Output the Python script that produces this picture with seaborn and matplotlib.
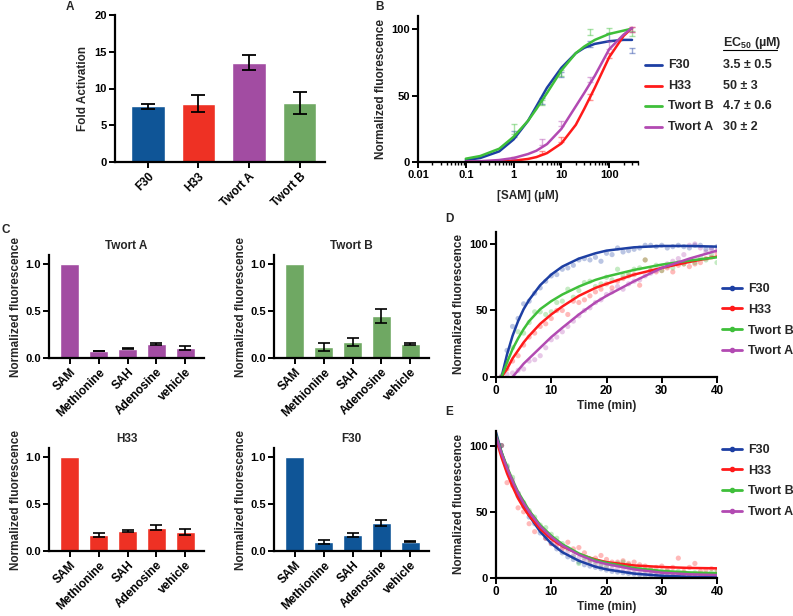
import numpy as np
import matplotlib
matplotlib.use("Agg")
import matplotlib.pyplot as plt
import seaborn as sns
from matplotlib.lines import Line2D

# ---- panel A: fold activation ----
strains = ['F30', 'H33', 'Twort A', 'Twort B']
fold_act = [7.6, 7.9, 13.5, 8.0]
fold_err = [0.35, 1.15, 1.05, 1.5]

# ---- panel B: SAM dose response ----
sam_conc = [1, 4, 10, 40, 100, 300]
sam_resp = {
    'F30': [21, 46, 66, 89, 94, 84],
    'H33': [3, 7, 17, 49, 80, 100],
    'Twort B': [25, 45, 67, 98, 99, 97],
    'Twort A': [3, 15, 29, 62, 88, 100],
}
sam_err = {
    'F30': [2, 2, 2, 2, 3, 2],
    'H33': [1, 1, 2, 2, 2, 2],
    'Twort B': [4, 2, 2, 2, 2, 2],
    'Twort A': [1, 2, 2, 2, 3, 2],
}
fit_conc = [0.1, 0.2, 0.5, 1, 2, 3, 5, 10, 20, 30, 50, 100, 200, 300]
fit_resp = {
    'F30': [1.5, 3, 8, 17, 31, 42, 56, 71, 82, 86, 89, 91, 92, 92],
    'H33': [0.1, 0.2, 0.4, 1, 2.3, 3.7, 6.7, 14, 28, 40, 56, 79, 95, 101],
    'Twort B': [2.5, 4.5, 10, 19, 31, 40, 52, 69, 82, 87, 92, 96.5, 99, 100.5],
    'Twort A': [0.3, 0.6, 1.5, 3, 6, 8.5, 13.5, 25, 42, 52, 65, 85, 96, 101],
}
ec50_txt = {'F30': '3.5 ± 0.5', 'H33': '50 ± 3', 'Twort B': '4.7 ± 0.6', 'Twort A': '30 ± 2'}

# ---- panel C: specificity ----
compounds = ['SAM', 'Methionine', 'SAH', 'Adenosine', 'vehicle']
spec_vals = {
    'Twort A': [1.0, 0.075, 0.10, 0.15, 0.11],
    'Twort B': [1.0, 0.12, 0.17, 0.45, 0.15],
    'H33': [1.0, 0.17, 0.21, 0.25, 0.20],
    'F30': [1.0, 0.10, 0.17, 0.30, 0.10],
}
spec_err = {
    'Twort A': [0, 0.005, 0.007, 0.012, 0.02],
    'Twort B': [0, 0.04, 0.04, 0.075, 0.01],
    'H33': [0, 0.02, 0.012, 0.025, 0.03],
    'F30': [0, 0.02, 0.02, 0.03, 0.005],
}

# ---- panel D: association kinetics ----
d_time = list(range(1, 41))
d_dots = {
    'F30': [0, 20, 38, 44, 55, 57, 63, 67, 72, 76, 77, 81, 82, 84, 88, 89, 88, 90, 87, 93,
            92, 97, 94, 95, 96, 97, 99, 99, 98, 99, 97, 98, 99, 98, 97, 99, 99, 96, 97, 98],
    'H33': [0, 6, 12, 16, 24, 30, 33, 38, 40, 44, 50, 50, 47, 57, 56, 58, 61, 64, 66, 70,
            67, 72, 74, 76, 77, 69, 88, 80, 79, 80, 82, 79, 84, 85, 83, 85, 86, 89, 90, 93],
    'Twort B': [0, 10, 22, 34, 33, 41, 49, 49, 47, 49, 56, 57, 66, 60, 65, 71, 72, 68, 70, 75,
                73, 81, 76, 78, 81, 82, 88, 80, 84, 80, 83, 82, 86, 85, 87, 86, 90, 88, 92, 86],
    'Twort A': [1, 2, 3, 5, 6, 12, 13, 16, 22, 28, 30, 34, 38, 42, 46, 50, 52, 56, 58, 62,
                64, 68, 66, 70, 72, 73, 76, 78, 80, 83, 85, 87, 89, 92, 99, 100, 97, 94, 96, 95],
}
d_fit_t = [1, 2, 3, 4, 5, 6, 8, 10, 12, 15, 18, 20, 25, 30, 35, 40]
d_fit = {
    'F30': [0, 17, 31, 42, 51, 58, 69, 77, 83, 89, 93, 95, 97.5, 98.5, 98.5, 98],
    'H33': [0, 6, 14, 20, 26, 31, 40, 47, 53, 61, 67, 70, 77, 82, 86.5, 90.5],
    'Twort B': [0, 11, 21, 29, 36, 42, 51, 57, 62, 68, 73, 75.5, 80.5, 84.5, 87.5, 90],
    'Twort A': [np.nan, np.nan, 0, 5, 10, 14, 22, 30, 37, 47, 56, 61, 72, 82, 89, 95],
}

# ---- panel E: dissociation kinetics ----
e_time = list(range(1, 41))
e_dots = {
    'F30': [100, 84, 72, 62, 54, 46, 41, 34, 30, 26, 22, 19, 16, 14, 12, 10, 9, 8, 7, 6,
            5, 4.5, 4, 3.5, 3, 2.5, 2, 2, 1.5, 1.5, 1, 1, 1, 0.5, 0.5, 0.5, 0.5, 0.5, 0, 0],
    'H33': [100, 72, 70, 53, 50, 41, 35, 38, 30, 26, 25, 22, 27, 22, 23, 19, 14, 15, 17, 14,
            12, 12, 13, 11, 12, 10, 9, 7, 8, 9, 6, 8, 15, 5, 8, 11, 5, 6, 7, 6],
    'Twort B': [100, 85, 76, 64, 57, 51, 46, 40, 38, 33, 30, 26, 22, 16, 11, 15, 13, 12, 10, 9,
                10, 11, 12, 10, 8, 7, 6, 6, 5, 5, 5, 4, 5, 4, 3, 4, 3, 3, 4, 5],
    'Twort A': [100, 83, 74, 64, 56, 50, 44, 38, 33, 29, 26, 23, 20, 17, 15, 13, 12, 10, 9, 8,
                7, 7, 6, 5, 5, 4, 4, 3, 3, 3, 3, 2, 2, 2, 2, 2, 1, 1, 1, 1],
}
e_fit_t = [0, 1, 2, 3, 4, 5, 6, 8, 10, 12, 15, 18, 20, 25, 30, 35, 40]
e_fit = {
    'F30': [110, 95, 83, 72, 62, 54, 47, 35, 26, 19.5, 13, 8.5, 6.5, 3.3, 1.7, 0.9, 0.5],
    'H33': [105, 91, 79, 69, 60, 53, 47, 37, 29.5, 24, 18, 14, 12, 9.5, 8.3, 7.6, 7.3],
    'Twort B': [108, 95, 84, 74, 65, 58, 51, 40, 32, 25.5, 18.5, 13.5, 11.5, 7.5, 5.3, 4.2, 3.6],
    'Twort A': [107, 94, 83, 73, 64, 56.5, 50, 39, 31, 24.5, 17.5, 12.5, 10.5, 6.5, 4, 2.8, 2.2],
}

legend_order = ['F30', 'H33', 'Twort B', 'Twort A']
bar_colors = {'F30': '#0f5597', 'H33': '#ee3124', 'Twort A': '#a24ca2', 'Twort B': '#6fa863'}
line_colors = {'F30': '#1d3fa3', 'H33': '#ff1a1a', 'Twort B': '#3fbf3a', 'Twort A': '#b24ab2'}

sns.set_style('ticks')
plt.rcParams['font.family'] = ['Liberation Sans', 'DejaVu Sans']
plt.rcParams['font.weight'] = 'bold'
plt.rcParams['axes.labelweight'] = 'bold'
plt.rcParams['axes.titleweight'] = 'bold'
plt.rcParams['mathtext.fontset'] = 'custom'
plt.rcParams['mathtext.rm'] = 'Liberation Sans:bold'
plt.rcParams['mathtext.bf'] = 'Liberation Sans:bold'
plt.rcParams['axes.linewidth'] = 1.6
plt.rcParams['xtick.major.width'] = 1.4
plt.rcParams['ytick.major.width'] = 1.4
plt.rcParams['xtick.major.size'] = 4
plt.rcParams['ytick.major.size'] = 4
plt.rcParams['xtick.labelsize'] = 8.5
plt.rcParams['ytick.labelsize'] = 8
plt.rcParams['axes.labelsize'] = 8.5
plt.rcParams['xtick.color'] = 'black'
plt.rcParams['ytick.color'] = 'black'
plt.rcParams['axes.edgecolor'] = 'black'

W, H = 793, 616
fig = plt.figure(figsize=(W / 100, H / 100), dpi=100)


def px_axes(l, t, r, b):
    return fig.add_axes([l / W, 1 - b / H, (r - l) / W, (b - t) / H])


def style(ax):
    sns.despine(ax=ax)
    ax.tick_params(pad=2)


# A
axA = px_axes(115, 15, 325, 162)
sns.barplot(x=strains, y=fold_act, hue=strains, palette=[bar_colors[s] for s in strains],
            saturation=1, width=0.66, legend=False, ax=axA)
axA.errorbar(range(len(strains)), fold_act, yerr=fold_err, fmt='none', ecolor='black',
             elinewidth=1.3, capsize=5, capthick=1.3)
axA.set_ylim(0, 20)
axA.set_yticks([0, 5, 10, 15, 20])
axA.set_xlim(-0.65, 3.5)
axA.set_xticks(range(len(strains)))
axA.set_xticklabels(strains, rotation=45, ha='right', rotation_mode='anchor')
axA.set_ylabel('Fold Activation', labelpad=4)
style(axA)

# B
axB = px_axes(418, 16, 638, 162)
for s in legend_order:
    c = line_colors[s]
    axB.errorbar(sam_conc, sam_resp[s], yerr=sam_err[s], fmt='none', ecolor=c, alpha=0.45,
                 elinewidth=1, capsize=2, capthick=1)
    sns.lineplot(x=fit_conc, y=fit_resp[s], color=c, linewidth=1.8, ax=axB)
axB.set_xscale('log')
axB.set_xlim(0.01, 400)
axB.set_ylim(0, 110)
axB.set_yticks([0, 50, 100])
axB.set_xticks([0.01, 0.1, 1, 10, 100])
axB.set_xticklabels(['0.01', '0.1', '1', '10', '100'], fontsize=8)
axB.tick_params(which='minor', length=2.5, width=1)
axB.set_xlabel('[SAM] (µM)', labelpad=7)
axB.set_ylabel('Normalized fluorescence', labelpad=3)
style(axB)

fig.text(723 / W, 1 - 43 / H, r'EC$_{50}$ (µM)', fontsize=9, va='center', ha='left')
fig.add_artist(Line2D([723 / W, 777 / W], [1 - 50 / H, 1 - 50 / H], color='black', lw=0.8,
                      transform=fig.transFigure))
for i, s in enumerate(legend_order):
    y = 1 - (65 + i * 20.7) / H
    fig.add_artist(Line2D([645 / W, 662 / W], [y, y], color=line_colors[s], lw=2,
                          transform=fig.transFigure))
    fig.text(668 / W, y, s, fontsize=9, va='center', ha='left')
    fig.text(723 / W, y, ec50_txt[s], fontsize=9, va='center', ha='left')

# C
c_boxes = {'Twort A': (49, 255, 204, 358), 'Twort B': (274, 255, 429, 358),
           'H33': (49, 448, 204, 551), 'F30': (274, 448, 429, 551)}
for s, box in c_boxes.items():
    ax = px_axes(*box)
    sns.barplot(x=compounds, y=spec_vals[s], color=bar_colors[s], saturation=1, width=0.66, ax=ax)
    ax.errorbar(range(1, len(compounds)), spec_vals[s][1:], yerr=spec_err[s][1:], fmt='none',
                ecolor='black', elinewidth=1.2, capsize=4, capthick=1.2)
    ax.set_ylim(0, 1.1)
    ax.set_yticks([0, 0.5, 1.0])
    ax.set_yticklabels(['0.0', '0.5', '1.0'])
    ax.set_xlim(-0.72, 4.65)
    ax.set_xticks(range(len(compounds)))
    ax.set_xticklabels(compounds, rotation=45, ha='right', rotation_mode='anchor')
    ax.set_title(s, fontsize=8.5, pad=4)
    ax.set_ylabel('Normalized fluorescence', labelpad=2)
    style(ax)


def kinetics(ax, t_dots, dots, t_fit, fit, ylim):
    for s in legend_order:
        c = line_colors[s]
        sns.scatterplot(x=t_dots, y=dots[s], color=c, alpha=0.3, s=14, edgecolor='none', ax=ax)
        sns.lineplot(x=t_fit, y=fit[s], color=c, linewidth=1.8, ax=ax)
    ax.set_xlim(0, 40)
    ax.set_ylim(*ylim)
    ax.set_xticks([0, 10, 20, 30, 40])
    ax.set_yticks([0, 50, 100])
    ax.set_xlabel('Time (min)', labelpad=2)
    ax.set_ylabel('Normalized fluorescence', labelpad=3)
    style(ax)


def side_legend(ax, top_px):
    handles = [Line2D([], [], color=line_colors[s], lw=2, marker='o', markersize=3) for s in legend_order]
    ax.legend(handles, legend_order, loc='upper left', bbox_to_anchor=(722 / W, 1 - top_px / H),
              bbox_transform=fig.transFigure, frameon=False, fontsize=9, handlelength=1.6,
              handletextpad=0.5, labelspacing=0.7, borderaxespad=0, borderpad=0)


axD = px_axes(496, 232, 717, 377)
kinetics(axD, d_time, d_dots, d_fit_t, d_fit, (0, 109))
side_legend(axD, 283)

axE = px_axes(496, 431, 717, 578)
kinetics(axE, e_time, e_dots, e_fit_t, e_fit, (0, 111))
side_legend(axE, 444)

for lab, (x, y) in {'A': (70, 7), 'B': (380, 7), 'C': (6, 230), 'D': (449, 219), 'E': (449, 412)}.items():
    fig.text(x / W, 1 - y / H, lab, fontsize=8.5, ha='center', va='center')

fig.savefig('out.png', dpi=100)
